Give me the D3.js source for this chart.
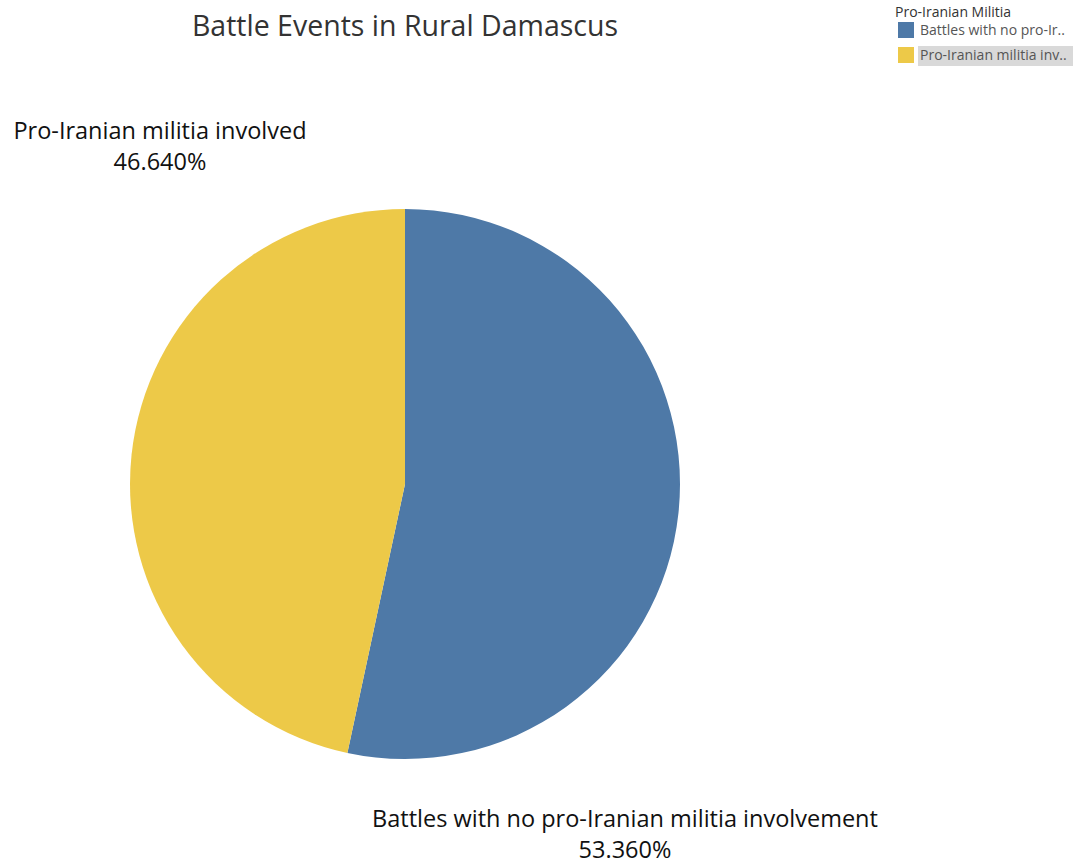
<!DOCTYPE html>
<html>
<head>
<meta charset="utf-8">
<script src="https://cdn.jsdelivr.net/npm/d3@7"></script>
<style>
  body { margin: 0; background: #fff; }
  svg { display: block; font-family: "Open Sans", "Noto Sans", sans-serif; }
</style>
</head>
<body>
<svg id="chart" width="1075" height="865"></svg>
<script>
// data
const categories = ["Battles with no pro-Iranian militia involvement", "Pro-Iranian militia involved"];
const shortNames = ["Battles with no pro-Ir..", "Pro-Iranian militia inv.."];
const shares = [53.36, 46.64];
const colours = ["#4e79a7", "#edc948"];

const width = 1075, height = 865;
const cx = 405, cy = 484, r = 275;
const svg = d3.select("#chart");

svg.append("text")
    .attr("x", 405).attr("y", 36)
    .attr("text-anchor", "middle")
    .attr("font-size", 28.5)
    .attr("fill", "#333")
    .text("Battle Events in Rural Damascus");

const pie = d3.pie().sort(null).value(d => d.v);
const arc = d3.arc().innerRadius(0).outerRadius(r);
const slices = pie(categories.map((c, i) => ({ c, v: shares[i], i })));

const g = svg.append("g").attr("transform", `translate(${cx},${cy})`);
g.selectAll("path")
    .data(slices)
    .join("path")
    .attr("d", arc)
    .attr("fill", d => colours[d.data.i]);

// slice labels placed outside the pie
const labelPos = [
    { x: 625, y: 827 },
    { x: 160, y: 139 }
];
const fmt = d3.format(".3f");
slices.forEach((s, i) => {
    const t = svg.append("text")
        .attr("text-anchor", "middle")
        .attr("font-size", 23.5)
        .attr("font-weight", 500)
        .attr("fill", "#111");
    t.append("tspan").attr("x", labelPos[i].x).attr("y", labelPos[i].y).text(s.data.c);
    t.append("tspan").attr("x", labelPos[i].x).attr("y", labelPos[i].y + 31).text(fmt(s.data.v) + "%");
});

// legend
const lg = svg.append("g").attr("transform", "translate(895,0)");
lg.append("text")
    .attr("x", 0).attr("y", 17)
    .attr("font-size", 14)
    .attr("fill", "#333")
    .text("Pro-Iranian Militia");
lg.append("rect")
    .attr("x", 23).attr("y", 46).attr("width", 155).attr("height", 20)
    .attr("fill", "#d9d9d9");
const items = lg.selectAll(".item")
    .data(categories)
    .join("g")
    .attr("transform", (d, i) => `translate(0,${22 + i * 25})`);
items.append("rect")
    .attr("x", 3).attr("y", 0).attr("width", 16).attr("height", 16)
    .attr("fill", (d, i) => colours[i]);
items.append("text")
    .attr("x", 25).attr("y", 13)
    .attr("font-size", 14)
    .attr("fill", "#555")
    .text((d, i) => shortNames[i]);
</script>
</body>
</html>
